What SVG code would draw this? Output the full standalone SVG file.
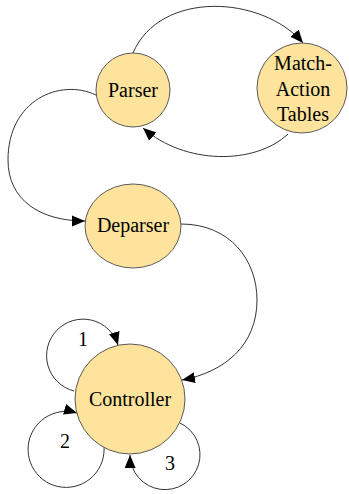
<svg xmlns="http://www.w3.org/2000/svg" width="349" height="494" viewBox="0 0 349 494">
<defs>
<marker id="arr" markerUnits="userSpaceOnUse" markerWidth="14" markerHeight="12" viewBox="0 0 14 12" refX="13" refY="6" orient="auto">
<path d="M0,0.5 L13,6 L0,11.5 Z" fill="#000"/>
</marker>
<style>
.node{fill:#FDE39B;stroke:#5a5a5a;stroke-width:1}
.lbl{font-family:"Liberation Serif",serif;font-size:20px;fill:#000;text-anchor:middle}
.edge{fill:none;stroke:#333;stroke-width:1;marker-end:url(#arr)}
</style>
</defs>
<g id="connectors">
<path class="edge" d="M133,53 C160,-10 262,-5 303,43"/>
<path class="edge" d="M288,134 C255,165 185,165 143,128"/>
<path class="edge" d="M96,95 C60,78 8,100 8,160 C8,200 40,221 85,221"/>
<path class="edge" d="M181,224 C230,224 257,260 257,300 C257,345 225,372 182,380"/>
<path class="edge" d="M74,391 A36.5 36.5 0 1 1 118,345"/>
<path class="edge" d="M102,437 A38 38 0 1 1 77,413"/>
<path class="edge" d="M180,423 A35 35 0 1 1 130,455"/>
<text class="lbl" x="83" y="346">1</text>
<text class="lbl" x="65" y="448">2</text>
<text class="lbl" x="170" y="470">3</text>
</g>
<g id="parser">
<circle class="node" cx="133" cy="90" r="37"/>
<text class="lbl" x="133" y="97">Parser</text>
</g>
<g id="match-action">
<circle class="node" cx="302" cy="88" r="45"/>
<text class="lbl" x="303" y="70">Match-</text>
<text class="lbl" x="303" y="96">Action</text>
<text class="lbl" x="303" y="121">Tables</text>
</g>
<g id="deparser">
<ellipse class="node" cx="133" cy="226" rx="48" ry="42"/>
<text class="lbl" x="133" y="232">Deparser</text>
</g>
<g id="controller">
<circle class="node" cx="130" cy="399" r="55"/>
<text class="lbl" x="130" y="406">Controller</text>
</g>
</svg>
